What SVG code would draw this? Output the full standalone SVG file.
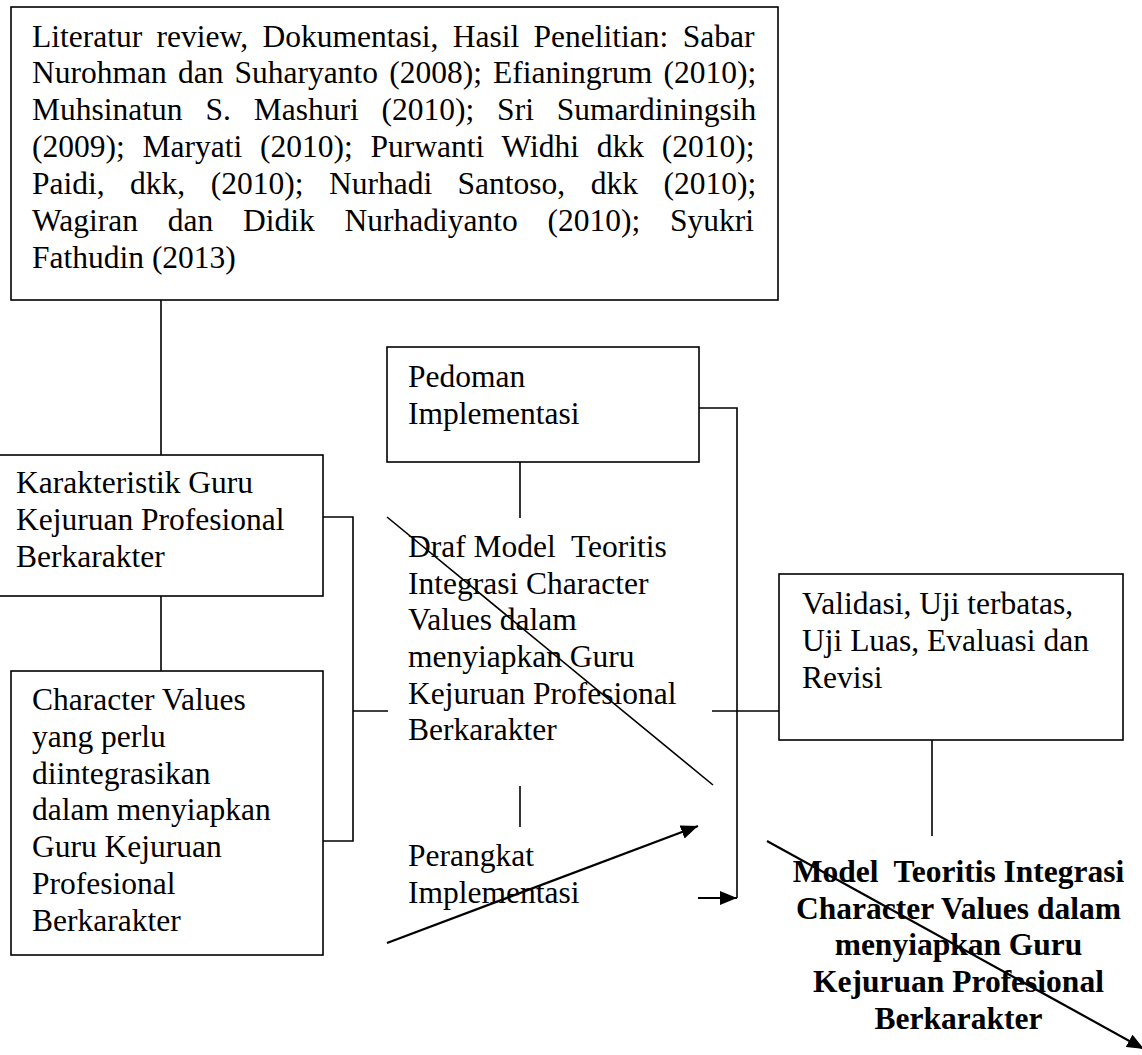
<svg xmlns="http://www.w3.org/2000/svg" width="1142" height="1055" viewBox="0 0 1142 1055">
<style>
.box{fill:#fff;stroke:#000;stroke-width:1.6}
.t{font-family:"Liberation Serif","Times New Roman",serif;font-size:31.5px;fill:#000}
.b{font-family:"Liberation Serif","Times New Roman",serif;font-size:31.5px;font-weight:bold;fill:#000;text-anchor:middle}
.ln{fill:none;stroke:#000;stroke-width:1.6}
.ar{fill:none;stroke:#000;stroke-width:2.2}
</style>
<defs>
<marker id="ah" markerUnits="userSpaceOnUse" markerWidth="18" markerHeight="14" refX="17" refY="7" orient="auto">
<path d="M0,0 L17,7 L0,14 z" fill="#000"/>
</marker>
</defs>
<rect width="1142" height="1055" fill="#fff"/>

<g id="connectors">
<polyline class="ln" points="161,300 161,455"/>
<polyline class="ln" points="161,596 161,671"/>
<polyline class="ln" points="323,517 353,517 353,841 323,841"/>
<polyline class="ln" points="353,711 388,711"/>
<polyline class="ln" points="520,462 520,518"/>
<polyline class="ln" points="520,786 520,827"/>
<polyline class="ln" points="699,408 737,408 737,898"/>
<polyline class="ln" points="712,711 779,711"/>
<polyline class="ln" points="932,740 932,836"/>
<line class="ln" x1="387" y1="517" x2="713" y2="785"/>
<line class="ar" x1="387" y1="943" x2="698" y2="826" marker-end="url(#ah)"/>
<line class="ar" x1="698" y1="898" x2="737" y2="898" marker-end="url(#ah)"/>
<line class="ar" x1="767" y1="841" x2="1144" y2="1049" marker-end="url(#ah)"/>
</g>

<g id="literatur">
<rect class="box" x="11" y="7" width="767" height="293"/>
<text class="t" x="32" y="46.5" word-spacing="6.5">Literatur review, Dokumentasi, Hasil Penelitian: Sabar</text>
<text class="t" x="32" y="83.4" word-spacing="3.3">Nurohman dan Suharyanto (2008); Efianingrum (2010);</text>
<text class="t" x="32" y="120.3" word-spacing="15">Muhsinatun S. Mashuri (2010); Sri Sumardiningsih</text>
<text class="t" x="32" y="157.2" word-spacing="9.9">(2009); Maryati (2010); Purwanti Widhi dkk (2010);</text>
<text class="t" x="32" y="194.1" word-spacing="17.6">Paidi, dkk, (2010); Nurhadi Santoso, dkk (2010);</text>
<text class="t" x="32" y="231" word-spacing="21.9">Wagiran dan Didik Nurhadiyanto (2010); Syukri</text>
<text class="t" x="32" y="267.9">Fathudin (2013)</text>
</g>

<g id="karakteristik">
<rect class="box" x="-2" y="455" width="325" height="141"/>
<text class="t" x="16" y="493">Karakteristik Guru</text>
<text class="t" x="16" y="530">Kejuruan Profesional</text>
<text class="t" x="16" y="567">Berkarakter</text>
</g>

<g id="character-values">
<rect class="box" x="11" y="671" width="312" height="284"/>
<text class="t" x="32" y="710">Character Values</text>
<text class="t" x="32" y="747">yang perlu</text>
<text class="t" x="32" y="784">diintegrasikan</text>
<text class="t" x="32" y="820">dalam menyiapkan</text>
<text class="t" x="32" y="857">Guru Kejuruan</text>
<text class="t" x="32" y="894">Profesional</text>
<text class="t" x="32" y="931">Berkarakter</text>
</g>

<g id="pedoman">
<rect class="box" x="387" y="347" width="312" height="115"/>
<text class="t" x="408" y="387">Pedoman</text>
<text class="t" x="408" y="424">Implementasi</text>
</g>

<g id="draf-model">
<text class="t" x="408" y="557" xml:space="preserve">Draf Model  Teoritis</text>
<text class="t" x="408" y="594">Integrasi Character</text>
<text class="t" x="408" y="630">Values dalam</text>
<text class="t" x="408" y="667">menyiapkan Guru</text>
<text class="t" x="408" y="704">Kejuruan Profesional</text>
<text class="t" x="408" y="740">Berkarakter</text>
</g>

<g id="perangkat">
<text class="t" x="408" y="866">Perangkat</text>
<text class="t" x="408" y="903">Implementasi</text>
</g>

<g id="validasi">
<rect class="box" x="779" y="574" width="344" height="166"/>
<text class="t" x="802" y="614">Validasi, Uji terbatas,</text>
<text class="t" x="802" y="651">Uji Luas, Evaluasi dan</text>
<text class="t" x="802" y="688">Revisi</text>
</g>

<g id="model-teoritis">
<text class="b" x="958.5" y="882" xml:space="preserve">Model  Teoritis Integrasi</text>
<text class="b" x="958.5" y="919">Character Values dalam</text>
<text class="b" x="958.5" y="955">menyiapkan Guru</text>
<text class="b" x="958.5" y="992">Kejuruan Profesional</text>
<text class="b" x="958.5" y="1029">Berkarakter</text>
</g>
</svg>
